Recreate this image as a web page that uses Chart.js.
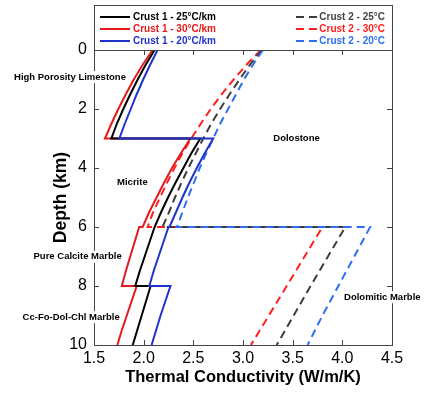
<!DOCTYPE html>
<html>
<head>
<meta charset="utf-8">
<script src="https://cdn.jsdelivr.net/npm/chart.js@4"></script>
<style>
  body { margin: 0; background: #fff; }
  canvas { display: block; }
</style>
</head>
<body>
<canvas id="tcChart" width="434" height="395"></canvas>
<script>
// depth (km) for each layer, crust 1 is 4 layers, crust 2 is 2 layers
const crust1Depth = [0, 0.5, 1, 1.5, 2, 2.5, 3, 3, 3.5, 4, 4.5, 5, 5.5, 6, 6, 6.5, 7, 7.5, 8, 8, 8.5, 9, 9.5, 10];
const crust1K25 = [2.11, 2.02, 1.94, 1.865, 1.795, 1.73, 1.675, 2.57, 2.48, 2.40, 2.32, 2.245, 2.175, 2.11, 2.11, 2.06, 2.01, 1.96, 1.915, 2.07, 2.025, 1.98, 1.935, 1.89];
const crust1K30 = [2.09, 1.99, 1.90, 1.82, 1.745, 1.675, 1.61, 2.47, 2.375, 2.285, 2.205, 2.13, 2.055, 1.99, 1.955, 1.91, 1.865, 1.82, 1.78, 1.93, 1.88, 1.83, 1.78, 1.735];
const crust1K20 = [2.14, 2.065, 1.995, 1.93, 1.87, 1.81, 1.755, 2.70, 2.615, 2.535, 2.46, 2.39, 2.325, 2.26, 2.25, 2.20, 2.15, 2.10, 2.057, 2.27, 2.22, 2.17, 2.125, 2.08];

const crust2Depth = [0, 0.5, 1, 1.5, 2, 2.5, 3, 3.5, 4, 4.5, 5, 5.5, 6, 6, 7, 8, 9, 10];
const crust2K25 = [3.19, 3.07, 2.965, 2.865, 2.77, 2.68, 2.60, 2.525, 2.45, 2.38, 2.315, 2.255, 2.19, 4.03, 3.855, 3.68, 3.51, 3.34];
const crust2K30 = [3.18, 3.035, 2.905, 2.785, 2.675, 2.575, 2.48, 2.39, 2.31, 2.235, 2.165, 2.095, 2.04, 3.80, 3.62, 3.44, 3.26, 3.08];
const crust2K20 = [3.20, 3.10, 3.01, 2.93, 2.85, 2.77, 2.70, 2.63, 2.565, 2.505, 2.445, 2.39, 2.335, 4.28, 4.12, 3.96, 3.80, 3.65];

const xTicks = [1.5, 2, 2.5, 3, 3.5, 4, 4.5];
const yTicks = [0, 2, 4, 6, 8, 10];

const rockNames = ["High Porosity Limestone", "Micrite", "Pure Calcite Marble", "Cc-Fo-Dol-Chl Marble", "Dolostone", "Dolomitic Marble"];

// where the rock names sit (data units: left edge k, centre depth)
const rockAt = [[0.695, 0.92], [1.732, 4.5], [0.891, 7.01], [0.781, 9.06], [3.305, 2.99], [4.017, 8.38]];

const FONT = "'Liberation Sans', Arial, sans-serif";
Chart.defaults.font.family = FONT;

const pts = (depth, k) => depth.map((d, i) => ({ x: k[i], y: d }));

function series(label, depth, k, color, textColor, dashed) {
  return {
    label,
    data: pts(depth, k),
    borderColor: color,
    textColor,
    borderWidth: 2,
    borderDash: dashed ? [8, 5] : [],
    showLine: true,
    pointRadius: 0,
    fill: false,
  };
}

// dataset 0 is drawn on top
const datasets = [
  series("Crust 1 - 20°C/km", crust1Depth, crust1K20, "#1f33cc", "#1f33cc", false),
  series("Crust 1 - 25°C/km", crust1Depth, crust1K25, "#000000", "#000000", false),
  series("Crust 1 - 30°C/km", crust1Depth, crust1K30, "#e3191c", "#e3191c", false),
  series("Crust 2 - 20°C", crust2Depth, crust2K20, "#2d6ff2", "#2d6ff2", true),
  series("Crust 2 - 25°C", crust2Depth, crust2K25, "#3c3c3c", "#444444", true),
  series("Crust 2 - 30°C", crust2Depth, crust2K30, "#ff1f1f", "#ff1f1f", true),
];

const legendOrder = [
  ["Crust 1 - 25°C/km", "Crust 2 - 25°C"],
  ["Crust 1 - 30°C/km", "Crust 2 - 30°C"],
  ["Crust 1 - 20°C/km", "Crust 2 - 20°C"],
];

const framePlugin = {
  id: "frame",
  afterDraw(chart) {
    const { ctx, chartArea: a, scales } = chart;
    ctx.save();
    ctx.strokeStyle = "#444";
    ctx.lineWidth = 1;
    ctx.strokeRect(a.left + 0.5, a.top + 0.5, a.right - a.left, a.bottom - a.top);

    // ticks pointing inward on all four sides
    ctx.beginPath();
    xTicks.forEach((v) => {
      const px = Math.round(scales.x.getPixelForValue(v)) + 0.5;
      ctx.moveTo(px, a.bottom);
      ctx.lineTo(px, a.bottom - 5);
      ctx.moveTo(px, a.top);
      ctx.lineTo(px, a.top + 5);
    });
    yTicks.forEach((v) => {
      const py = Math.round(scales.y.getPixelForValue(v)) + 0.5;
      ctx.moveTo(a.left, py);
      ctx.lineTo(a.left + 5, py);
      ctx.moveTo(a.right, py);
      ctx.lineTo(a.right - 5, py);
    });
    ctx.stroke();

    // legend box sitting on top of the plot
    const top = 5;
    ctx.strokeRect(a.left + 0.5, top + 0.5, a.right - a.left, a.top - top);
    ctx.font = "bold 10px " + FONT;
    ctx.textBaseline = "middle";
    legendOrder.forEach((row, i) => {
      const y = top + 12 + i * 12;
      const left = chart.data.datasets.find((d) => d.label === row[0]);
      const right = chart.data.datasets.find((d) => d.label === row[1]);

      ctx.lineWidth = 2;
      ctx.strokeStyle = left.borderColor;
      ctx.setLineDash([]);
      ctx.beginPath();
      ctx.moveTo(a.left + 6, y);
      ctx.lineTo(a.left + 36, y);
      ctx.stroke();
      ctx.fillStyle = left.textColor;
      ctx.textAlign = "left";
      ctx.fillText(left.label, a.left + 39, y);

      ctx.strokeStyle = right.borderColor;
      ctx.setLineDash([8, 5]);
      ctx.beginPath();
      ctx.moveTo(a.right - 96, y);
      ctx.lineTo(a.right - 75, y);
      ctx.stroke();
      ctx.setLineDash([]);
      ctx.fillStyle = right.textColor;
      ctx.textAlign = "right";
      ctx.fillText(right.label, a.right - 7, y);
    });

    // rock type labels
    ctx.font = "bold 9.5px " + FONT;
    ctx.textAlign = "left";
    rockNames.forEach((name, i) => {
      const x = scales.x.getPixelForValue(rockAt[i][0]);
      const y = scales.y.getPixelForValue(rockAt[i][1]);
      const w = ctx.measureText(name).width;
      ctx.fillStyle = "#fff";
      ctx.fillRect(x - 1, y - 6, w + 2, 12);
      ctx.fillStyle = "#000";
      ctx.fillText(name, x, y);
    });
    ctx.restore();
  },
};

new Chart(document.getElementById("tcChart").getContext("2d"), {
  type: "scatter",
  data: { datasets },
  options: {
    responsive: false,
    animation: false,
    layout: { padding: { top: 50, right: 42, left: 0, bottom: 0 } },
    plugins: { legend: { display: false }, tooltip: { enabled: false } },
    scales: {
      x: {
        type: "linear",
        min: 1.5,
        max: 4.5,
        afterBuildTicks: (s) => { s.ticks = xTicks.map((v) => ({ value: v })); },
        afterFit: (s) => { s.height = 50; },
        ticks: { font: { size: 16 }, color: "#000", padding: 4, autoSkip: false },
        grid: { display: false, drawTicks: false },
        border: { display: false },
        title: {
          display: true,
          text: "Thermal Conductivity (W/m/K)",
          color: "#000",
          font: { size: 16.5, weight: "bold" },
          padding: { top: 0, bottom: 8 },
        },
      },
      y: {
        type: "linear",
        reverse: true,
        min: 0,
        max: 10,
        afterBuildTicks: (s) => { s.ticks = yTicks.map((v) => ({ value: v })); },
        afterFit: (s) => { s.width = 94; },
        ticks: { font: { size: 16 }, color: "#000", padding: 7, autoSkip: false },
        grid: { display: false, drawTicks: false },
        border: { display: false },
        title: {
          display: true,
          text: "Depth (km)",
          color: "#000",
          font: { size: 17.5, weight: "bold" },
          padding: { top: 51, bottom: 0 },
        },
      },
    },
  },
  plugins: [framePlugin],
});
</script>
</body>
</html>
